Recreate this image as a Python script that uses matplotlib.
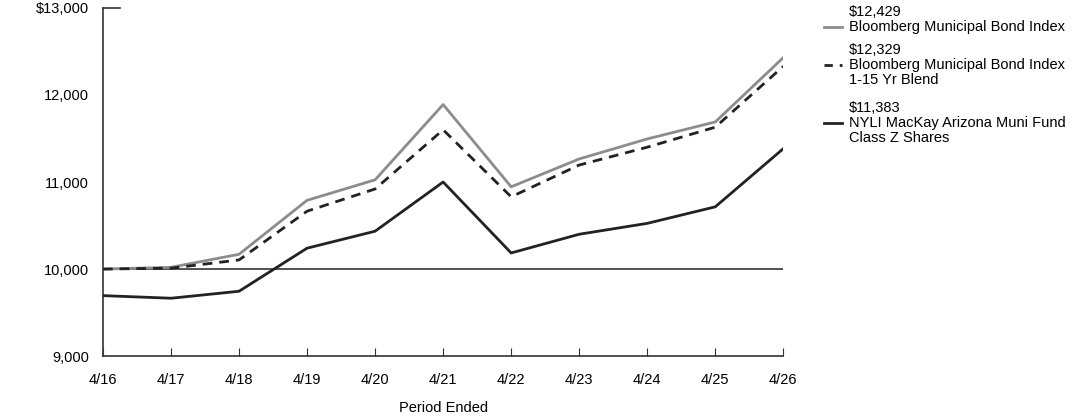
import matplotlib
matplotlib.use('Agg')
from matplotlib import pyplot as plt
from matplotlib.lines import Line2D

plt.rcParams['font.family'] = ['Liberation Sans', 'DejaVu Sans']
plt.rcParams['font.size'] = 10.5

periods = ['4/16', '4/17', '4/18', '4/19', '4/20', '4/21', '4/22', '4/23', '4/24', '4/25', '4/26']
muni_index = [10000, 10020, 10170, 10790, 11025, 11890, 10945, 11265, 11495, 11690, 12429]
blend_index = [10000, 10010, 10105, 10665, 10920, 11600, 10830, 11195, 11400, 11630, 12329]
fund = [9695, 9665, 9745, 10240, 10435, 11000, 10185, 10400, 10525, 10715, 11383]

legend_values = ['$12,429', '$12,329', '$11,383']
legend_names = ['Bloomberg Municipal Bond Index',
                'Bloomberg Municipal Bond Index\n1-15 Yr Blend',
                'NYLI MacKay Arizona Muni Fund\nClass Z Shares']
yticks = [9000, 10000, 11000, 12000, 13000]
ytick_labels = ['9,000', '10,000', '11,000', '12,000', '$13,000']

fig = plt.figure(figsize=(10.92, 4.17), dpi=100)
ax = fig.add_axes([0.0943, 0.146, 0.623, 0.835])

x = list(range(len(periods)))
ax.axhline(10000, color='#333333', lw=1.2, zorder=1)
ax.plot(x, muni_index, color='#8c8c8c', lw=2, zorder=3)
ax.plot(x, blend_index, color='#222222', lw=2, ls=(0, (3.5, 2.5)), zorder=4)
ax.plot(x, fund, color='#222222', lw=2, zorder=5)

ax.set_xlim(0, 10)
ax.set_ylim(9000, 13000)
ax.set_xticks(x)
ax.set_xticklabels(periods)
ax.set_yticks(yticks)
ax.set_yticklabels(ytick_labels)
ax.tick_params(axis='x', direction='in', length=6, color='#333333', pad=12)
ax.tick_params(axis='y', length=0, pad=10)
ax.plot([0, 0.25], [13000, 13000], color='#333333', lw=1.2, clip_on=False)
for s in ['top', 'right']:
    ax.spines[s].set_visible(False)
for s in ['left', 'bottom']:
    ax.spines[s].set_color('#333333')
    ax.spines[s].set_linewidth(1.2)
ax.set_xlabel('Period Ended', labelpad=10)

styles = [dict(color='#8c8c8c', ls='-'),
          dict(color='#222222', ls=(0, (3, 2.5))),
          dict(color='#222222', ls='-')]
tops = [12, 50, 108]
for val, name, st, top in zip(legend_values, legend_names, styles, tops):
    fig.text(849 / 1092, 1 - top / 417, val, va='center', ha='left')
    for i, ln in enumerate(name.split('\n')):
        fig.text(849 / 1092, 1 - (top + 15 + 15 * i) / 417, ln, va='center', ha='left')
    yn = 1 - (top + 15) / 417
    fig.add_artist(Line2D([824 / 1092, 842 / 1092], [yn, yn], lw=2, **st))

fig.savefig('out.png', dpi=100)
